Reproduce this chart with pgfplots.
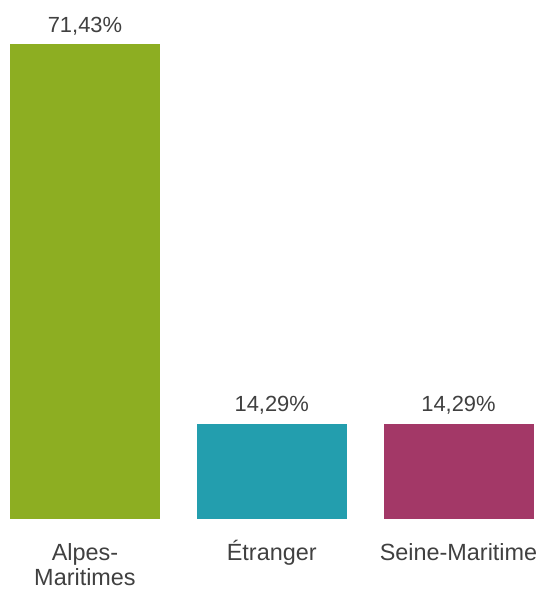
\documentclass[border=0pt]{standalone}
\usepackage{pgfplots}
\pgfplotsset{compat=1.18}
\usepackage{fontspec}
\setmainfont{Liberation Sans}

\definecolor{cgreen}{HTML}{8DAE22}
\definecolor{cteal}{HTML}{239EAE}
\definecolor{cmag}{HTML}{A33867}
\definecolor{ctext}{HTML}{404040}

\begin{document}
\begin{tikzpicture}
\begin{axis}[
    at={(0,0)}, anchor=south west,
    scale only axis,
    width=539bp, height=519bp,
    xmin=-0.455, xmax=2.431,
    ymin=0, ymax=78.05,
    axis line style={draw=none},
    ytick=\empty,
    xtick={0,1,2},
    xticklabels={{\begin{tabular}[t]{@{}c@{}}Alpes-\\Maritimes\end{tabular}}, Étranger, Seine-Maritime},
    major tick length=0pt,
    xticklabel style={anchor=base, yshift=-41bp,
        font=\fontsize{23.5}{26}\selectfont, text=ctext},
    ybar, bar width=150bp, bar shift=0pt,
    clip=false,
    nodes near coords={\pgfmathprintnumber[fixed, fixed zerofill, precision=2, use comma]{\pgfplotspointmeta}\%},
    nodes near coords style={anchor=base, yshift=12bp,
        font=\fontsize{22}{26}\selectfont, text=ctext},
    /pgf/number format/assume math mode=true,
]
\addplot[fill=cgreen, draw=none] coordinates {(0,71.43)};
\addplot[fill=cteal, draw=none] coordinates {(1,14.29)};
\addplot[fill=cmag, draw=none] coordinates {(2,14.29)};
\end{axis}
\pgfresetboundingbox
\useasboundingbox (0,-71bp) rectangle (539bp,519bp);
\end{tikzpicture}
\end{document}
